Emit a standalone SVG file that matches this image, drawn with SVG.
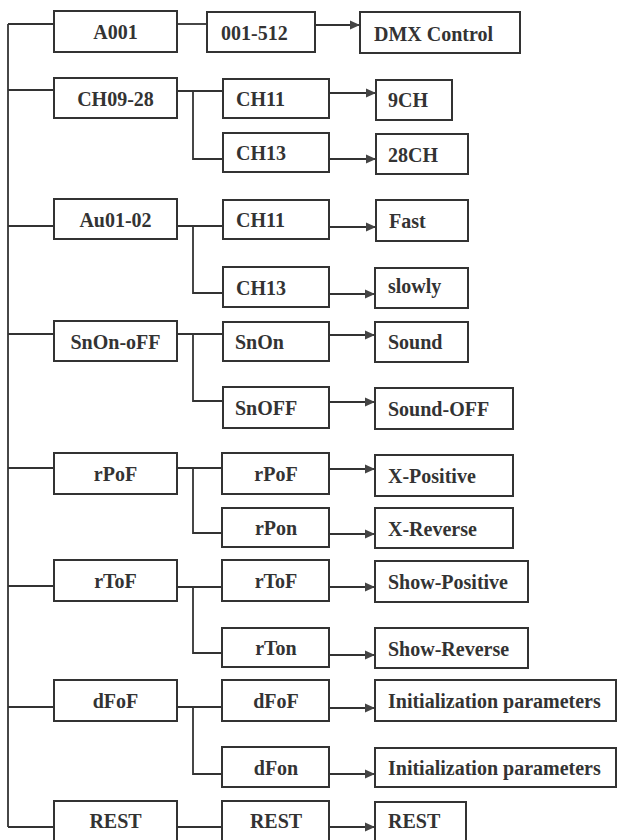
<svg xmlns="http://www.w3.org/2000/svg" width="617" height="840" viewBox="0 0 617 840">
<style>
rect{fill:#fff;stroke:#333;stroke-width:2}
text{font-family:Liberation Serif, serif;font-weight:700;font-size:20px;fill:#333}
.c{text-anchor:middle}
#connectors path{fill:none;stroke:#333;stroke-width:1.8}
#connectors .a{marker-end:url(#arr)}
</style>
<defs>
<marker id="arr" markerUnits="userSpaceOnUse" markerWidth="11" markerHeight="10" refX="10" refY="5" orient="auto">
<path d="M0,0.5 L10,5 L0,9.5 z" fill="#444"/>
</marker>
</defs>
<rect x="0" y="0" width="617" height="840" style="fill:#fff;stroke:none"/>
<g id="connectors">
<path d="M8,24 V827"/>
<path d="M8,24 H54 M8,90 H54 M8,226 H54 M8,334 H54 M8,468 H54 M8,586 H54 M8,707 H54 M8,827 H54"/>
<path d="M177,24 H207"/>
<path d="M177,91 H223 M193,91 V159 H223"/>
<path d="M177,226 H223 M193,226 V293 H223"/>
<path d="M177,334 H223 M193,334 V401 H223"/>
<path d="M177,468 H222 M193,468 V533 H222"/>
<path d="M177,587 H222 M193,587 V653 H222"/>
<path d="M177,707 H222 M193,707 V774 H222"/>
<path d="M177,827 H222"/>
<path class="a" d="M315,25 H360"/>
<path class="a" d="M329,93 H376"/>
<path class="a" d="M329,159 H376"/>
<path class="a" d="M329,227 H376"/>
<path class="a" d="M329,294 H375"/>
<path class="a" d="M329,335 H375"/>
<path class="a" d="M329,402 H375"/>
<path class="a" d="M329,469 H375"/>
<path class="a" d="M329,534 H375"/>
<path class="a" d="M329,587 H375"/>
<path class="a" d="M329,655 H375"/>
<path class="a" d="M329,708 H375"/>
<path class="a" d="M329,774 H375"/>
<path class="a" d="M329,827 H375"/>
</g>
<g id="n-a001"><rect x="54" y="11" width="123" height="41"/><text class="c" x="115.5" y="39">A001</text></g>
<g id="n-ch0928"><rect x="54" y="78" width="123" height="40"/><text class="c" x="115.5" y="105.5">CH09-28</text></g>
<g id="n-au0102"><rect x="54" y="199" width="123" height="40"/><text class="c" x="115.5" y="226.5">Au01-02</text></g>
<g id="n-snonoff"><rect x="54" y="321" width="123" height="40"/><text class="c" x="115.5" y="348.5">SnOn-oFF</text></g>
<g id="n-rpof1"><rect x="54" y="453" width="123" height="41"/><text class="c" x="115.5" y="481">rPoF</text></g>
<g id="n-rtof1"><rect x="54" y="560" width="123" height="41"/><text class="c" x="115.5" y="588">rToF</text></g>
<g id="n-dfof1"><rect x="54" y="680" width="123" height="41"/><text class="c" x="115.5" y="708">dFoF</text></g>
<g id="n-rest1"><rect x="54" y="801" width="123" height="45"/><text class="c" x="115.5" y="828">REST</text></g>

<g id="n-001512"><rect x="207" y="12" width="108" height="40"/><text x="221" y="39.5">001-512</text></g>
<g id="n-ch11a"><rect x="223" y="79" width="106" height="39"/><text x="236" y="106">CH11</text></g>
<g id="n-ch13a"><rect x="223" y="133" width="106" height="39"/><text x="236" y="160">CH13</text></g>
<g id="n-ch11b"><rect x="223" y="200" width="106" height="39"/><text x="236" y="227">CH11</text></g>
<g id="n-ch13b"><rect x="223" y="267" width="106" height="40"/><text x="236" y="294.5">CH13</text></g>
<g id="n-snon"><rect x="223" y="322" width="106" height="39"/><text x="235" y="349">SnOn</text></g>
<g id="n-snoff"><rect x="223" y="387" width="106" height="41"/><text x="235" y="415">SnOFF</text></g>
<g id="n-rpof2"><rect x="222" y="453" width="107" height="41"/><text class="c" x="276" y="481">rPoF</text></g>
<g id="n-rpon"><rect x="222" y="508" width="107" height="39"/><text class="c" x="276" y="535">rPon</text></g>
<g id="n-rtof2"><rect x="222" y="560" width="107" height="41"/><text class="c" x="276" y="588">rToF</text></g>
<g id="n-rton"><rect x="222" y="628" width="107" height="39"/><text class="c" x="276" y="655">rTon</text></g>
<g id="n-dfof2"><rect x="222" y="680" width="107" height="41"/><text class="c" x="276" y="708">dFoF</text></g>
<g id="n-dfon"><rect x="222" y="747" width="107" height="40"/><text class="c" x="276" y="774.5">dFon</text></g>
<g id="n-rest2"><rect x="222" y="801" width="107" height="45"/><text class="c" x="276" y="828">REST</text></g>

<g id="n-dmx"><rect x="360" y="12" width="160" height="41"/><text x="374" y="41">DMX Control</text></g>
<g id="n-9ch"><rect x="376" y="80" width="76" height="40"/><text x="388" y="107">9CH</text></g>
<g id="n-28ch"><rect x="376" y="134" width="92" height="40"/><text x="388" y="161.5">28CH</text></g>
<g id="n-fast"><rect x="376" y="200" width="92" height="41"/><text x="389" y="228">Fast</text></g>
<g id="n-slowly"><rect x="375" y="268" width="93" height="40"/><text x="388" y="293">slowly</text></g>
<g id="n-sound"><rect x="375" y="322" width="93" height="40"/><text x="388" y="349">Sound</text></g>
<g id="n-soundoff"><rect x="375" y="388" width="138" height="41"/><text x="388" y="416">Sound-OFF</text></g>
<g id="n-xpos"><rect x="375" y="455" width="138" height="41"/><text x="388" y="483">X-Positive</text></g>
<g id="n-xrev"><rect x="375" y="508" width="138" height="40"/><text x="388" y="535.5">X-Reverse</text></g>
<g id="n-showpos"><rect x="375" y="561" width="153" height="41"/><text x="388" y="589">Show-Positive</text></g>
<g id="n-showrev"><rect x="375" y="628" width="153" height="40"/><text x="388" y="655.5">Show-Reverse</text></g>
<g id="n-init1"><rect x="375" y="680" width="241" height="41"/><text x="388" y="708">Initialization parameters</text></g>
<g id="n-init2"><rect x="375" y="748" width="241" height="39"/><text x="388" y="775">Initialization parameters</text></g>
<g id="n-rest3"><rect x="375" y="802" width="91" height="44"/><text x="388" y="828">REST</text></g>
</svg>
